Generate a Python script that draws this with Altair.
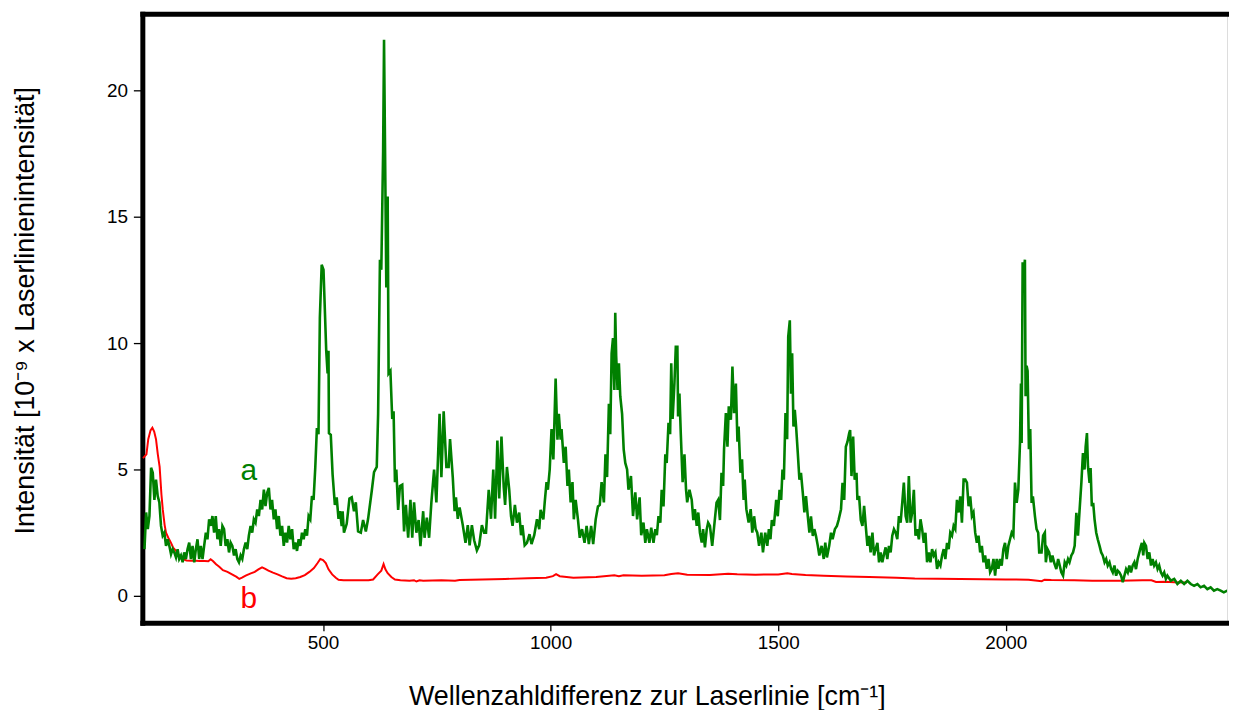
import altair as alt
import pandas as pd

# ---- spectrum a (green): (wavenumber, intensity) ----
a_low = [(107.7, 1.85), (111.3, 3.3), (115, 2.64), (118.6, 3.16), (122.2, 5.07), (125.9, 4.87), (129.5, 3.8),
         (133, 4.6), (136.8, 3.95), (140.4, 3.7), (144, 2.77), (147.7, 2.38), (151.4, 2.5), (155, 1.98),
         (158.7, 2.24), (162.3, 1.98), (166, 1.65), (169.6, 1.85), (173.2, 1.72), (176.9, 1.52), (180.5, 1.85),
         (184, 1.46), (187.8, 1.6), (191.5, 1.33), (195, 1.72), (198.7, 1.46), (202.4, 1.85), (206, 2.11),
         (209.7, 1.46), (213.3, 1.98), (217, 1.33), (220.6, 1.85), (224.2, 2.24), (227.9, 1.46), (231.5, 1.98),
         (235.2, 1.46), (238.8, 1.98), (242.5, 2.5), (246, 2.24), (249.7, 3.03), (253.4, 2.77), (257, 3.16),
         (260.7, 2.5), (264.3, 3.16), (268, 2.24), (271.6, 2.64), (275.2, 1.98), (278.9, 2.77), (282.5, 2.64),
         (286, 1.98), (289.8, 2.24), (293.4, 1.72), (297, 2.11), (300.7, 1.98), (304.4, 1.6), (308, 1.85),
         (311.7, 1.46), (315.3, 1.33), (319, 1.6), (322.6, 1.46), (326.2, 1.85), (329.9, 2.11), (333.5, 1.85),
         (337, 2.38), (340.8, 2.77), (344.4, 2.5), (348, 3.03), (351.7, 2.9), (355.4, 3.42), (359, 3.16),
         (362.7, 3.8), (366.3, 3.42), (370, 4.2), (373.6, 3.55), (377.2, 4.08), (380.9, 4.27), (384.5, 3.42),
         (388, 3.8), (391.8, 3.03), (395.4, 3.42), (399, 2.64), (402.7, 3.16), (406.4, 2.38), (410, 2.77),
         (413.7, 1.98), (417.3, 2.5), (421, 2.11), (424.6, 2.77), (428.2, 2.24), (432, 2.64), (435.5, 1.85),
         (439, 2.11), (442.8, 1.78), (446.4, 2.24), (450, 1.98), (453.7, 2.5), (457.4, 2.24), (461, 2.64),
         (464.7, 2.38), (468.3, 3.16), (472, 3.03), (475.6, 3.95), (479.2, 3.8), (482.9, 5.07), (486.5, 6.64),
         (490, 6.4), (493, 11.0), (497, 13.1)]
a_500_900 = [(501, 12.9), (507, 9.7), (510, 8.8), (512, 9.7), (513, 6.44), (517, 6.37), (521, 4.8), (526, 3.6),
             (530, 3.9), (534, 3.05), (537, 3.35), (541, 2.76), (543, 3.35), (546, 2.5), (552, 2.85), (558, 3.85),
             (563, 3.9), (568, 3.35), (572, 3.7), (577, 2.55), (583, 2.5), (588, 3.0), (594, 2.55), (599, 3.05),
             (607, 4.15), (612, 4.9), (618, 5.1), (621, 7.2), (625, 13.3), (628, 12.9), (632, 17.6), (634, 22.0),
             (636, 18.1), (639, 12.2), (642, 15.8), (644, 8.8), (648, 8.9), (652, 7.0), (655, 7.3), (658, 4.5),
             (661, 5.0), (665, 3.4), (669, 4.35), (674, 4.4), (678, 2.55), (682, 3.6), (687, 2.3), (692, 3.8),
             (696, 2.3), (700, 3.7), (705, 2.5), (710, 3.0), (714, 1.97), (720, 3.35), (723, 2.3), (728, 3.1),
             (733, 2.3), (738, 3.7), (744, 5.0), (749, 3.7), (756, 7.2), (760, 4.7), (765, 7.3), (771, 5.1),
             (776, 5.1), (779, 6.2), (785, 4.7), (789, 3.35), (792, 3.9), (796, 3.05), (800, 3.5), (807, 2.8),
             (813, 2.1), (818, 2.8), (822, 2.0), (827, 2.8), (832, 2.2), (838, 1.8), (843, 2.0), (849, 2.8),
             (854, 2.5), (858, 2.5), (864, 4.2), (869, 3.05), (874, 5.0), (878, 3.05), (883, 6.15), (887, 3.85),
             (892, 6.3), (897, 4.3), (900, 3.6), (904, 5.1)]
a_900_1310 = [(909, 4.2), (913, 3.16), (916.4, 2.77), (921.5, 3.6), (926, 2.9), (931, 3.3), (935, 2.4), (938, 2.8),
              (943, 2.0), (948, 2.1), (953.6, 2.44), (958, 2.05), (964, 2.4), (970, 3.03), (975, 2.64), (978, 3.4),
              (984, 3.03), (987, 3.7), (991, 4.5), (994, 4.2), (998, 5.0), (1002, 6.6), (1006, 5.4), (1011, 8.6),
              (1015, 6.18), (1018, 7.2), (1022, 6.18), (1024, 6.6), (1029, 5.26), (1033, 5.9), (1037, 4.35),
              (1040, 5.0), (1044, 3.7), (1048, 4.5), (1051, 3.03), (1055, 3.8), (1060, 3.03), (1064, 2.3),
              (1069, 2.64), (1074.5, 2.1), (1079, 2.77), (1084, 2.05), (1089, 2.77), (1093.5, 2.05), (1099, 3.03),
              (1104, 3.54), (1108, 3.6), (1112, 4.5), (1117, 3.7), (1120.5, 5.6), (1124, 4.7), (1128, 7.6),
              (1131, 6.4), (1134, 9.6), (1137, 10.2), (1140, 8.15), (1142, 11.2), (1144, 9.5), (1147, 8.15),
              (1150, 9.2), (1153, 7.9), (1157, 7.2), (1160.5, 5.8), (1164, 5.26), (1168, 5.0), (1171, 4.2),
              (1176.5, 4.74), (1181, 3.16), (1186, 4.1), (1190, 3.03), (1195.5, 3.9), (1199, 2.4), (1204, 2.9),
              (1208, 2.1), (1211.5, 2.64), (1217, 2.1), (1221, 2.7), (1226, 2.1), (1230, 2.64), (1233.4, 2.4),
              (1237, 3.16), (1241, 2.9), (1244, 4.2), (1248, 3.54), (1252, 5.6), (1255, 5.26), (1259, 6.85),
              (1262.5, 6.4), (1265, 9.2), (1268, 7.0), (1272, 8.4), (1275, 9.85), (1278.5, 9.85), (1280, 7.1),
              (1283, 8.0), (1286, 6.4), (1290, 4.5), (1294, 5.6), (1297.5, 4.2), (1300, 3.7), (1305, 4.2)]
a_1310_1710 = [(1310, 3.8), (1313.5, 3.0), (1317, 3.43), (1321, 2.77), (1324.4, 3.3), (1328, 2.5), (1332, 2.11),
               (1335, 2.64), (1339, 1.92), (1343, 2.64), (1346, 2.9), (1350, 2.77), (1355, 1.98), (1359.4, 2.77),
               (1364.5, 3.69), (1368, 3.8), (1372, 3.0), (1375.4, 4.87), (1379, 4.35), (1381, 5.8), (1385, 7.23),
               (1388.5, 5.9), (1391.4, 7.5), (1396, 6.97), (1399.4, 9.07), (1403, 7.23), (1407, 8.4), (1410.4, 6.1),
               (1413, 6.7), (1417, 4.87), (1420.5, 5.4), (1424, 3.8), (1426.4, 4.6), (1430, 3.43), (1435, 2.9),
               (1439.5, 3.43), (1443, 2.5), (1447, 3.15), (1450.4, 2.64), (1454, 2.5), (1458, 1.98), (1463, 2.5),
               (1466.5, 1.72), (1471.5, 2.5), (1476, 1.98), (1479.5, 2.64), (1483, 2.24), (1486, 3.0),
               (1490.5, 2.77), (1495.6, 3.8), (1499, 3.15), (1503, 4.2), (1506.5, 3.8), (1509.4, 5.0),
               (1512.4, 4.6), (1516, 7.23), (1519.6, 6.2), (1522, 10.25), (1525.5, 10.9), (1528, 8.0),
               (1530.6, 9.6), (1533.5, 6.7), (1536.4, 7.36), (1539.3, 6.7), (1543, 5.66), (1546.6, 4.6),
               (1550, 4.87), (1554, 4.08), (1557.5, 3.3), (1561, 3.95), (1565, 3.15), (1568.5, 2.5), (1572, 3.15),
               (1576, 2.37), (1579.4, 2.64), (1583, 2.37), (1587, 1.98), (1590.3, 1.6), (1595.4, 1.98),
               (1600, 1.46), (1603.4, 2.11), (1607, 1.52), (1612, 1.98), (1616, 2.5), (1619.5, 2.24),
               (1624.5, 2.64), (1629, 2.77), (1632.6, 3.0), (1638, 3.43), (1641.3, 4.47), (1645, 3.8),
               (1648.6, 5.9), (1652.2, 6.1), (1656, 6.44), (1658, 6.56), (1661, 4.74), (1664.6, 6.3), (1668, 4.6),
               (1672, 4.87), (1674, 3.8), (1677.7, 3.95), (1681.4, 3.0), (1685, 2.77), (1688.7, 3.56),
               (1692.3, 2.77), (1696, 1.98), (1699.6, 2.37), (1703, 1.72), (1707, 2.5), (1710.5, 1.6)]
a_1710_2106 = [(1714, 1.85), (1718, 2.1), (1721.5, 1.33), (1725, 1.72), (1728.8, 1.33), (1732.4, 1.65), (1736, 1.92),
               (1739.7, 1.46), (1743.3, 1.98), (1747, 1.72), (1750.6, 2.38), (1754.3, 2.64), (1758, 2.5),
               (1761.6, 2.24), (1765.2, 3.16), (1768.9, 2.9), (1772.5, 3.68), (1776, 4.48), (1780, 3.16),
               (1783.4, 2.9), (1787, 4.74), (1790.7, 2.9), (1794.3, 3.3), (1798, 4.2), (1801.6, 2.38),
               (1805.3, 2.64), (1809, 2.24), (1812.6, 3.03), (1816.2, 2.64), (1819.8, 2.1), (1823.5, 2.5),
               (1827, 1.33), (1830.8, 1.72), (1834.4, 1.33), (1838, 1.85), (1841.7, 1.6), (1845.3, 1.72),
               (1849, 1.07), (1852.6, 1.33), (1856.3, 1.2), (1860, 1.6), (1863.6, 1.85), (1867.2, 1.46),
               (1870.9, 2.1), (1874.5, 1.85), (1878, 2.5), (1881.8, 2.38), (1885.4, 2.77), (1889, 2.64),
               (1892.7, 3.8), (1896.4, 3.3), (1900, 3.94), (1903.6, 2.9), (1907.3, 4.6), (1911, 4.6),
               (1914.6, 4.48), (1918.2, 3.55), (1921.9, 3.94), (1925.5, 3.16), (1929, 3.3), (1932.8, 2.5),
               (1936.4, 2.1), (1940, 2.38), (1943.7, 1.72), (1947.4, 1.98), (1951, 1.33), (1954.6, 1.6),
               (1958.3, 1.07), (1962, 1.46), (1965.6, 0.94), (1969.2, 1.07), (1972.9, 1.46), (1976.5, 0.8),
               (1980, 1.46), (1983.8, 1.07), (1987.4, 1.46), (1991, 1.2), (1994.7, 1.85), (1998.3, 2.1),
               (2002, 1.46), (2005.6, 1.98), (2009.3, 2.24), (2012.9, 2.5), (2016.6, 2.38), (2020.2, 4.48),
               (2023.9, 3.68), (2027.5, 4.2), (2031.2, 6.05), (2033.3, 8.4), (2034.8, 6.05), (2037, 13.2),
               (2039.9, 12.9), (2042, 13.3), (2043.5, 7.9), (2045.7, 9.1), (2047.9, 8.9), (2050.8, 5.8),
               (2053.7, 6.6), (2056.7, 3.68), (2059.5, 3.94), (2064, 3.16), (2067.6, 2.64), (2071.2, 2.5),
               (2073.4, 1.72), (2078.5, 1.72), (2082, 2.38), (2085.8, 2.5), (2088, 1.33), (2091.6, 1.85),
               (2095.3, 1.72), (2098.9, 1.33), (2102.5, 1.6), (2106, 1.33)]
a_high = [(2111, 1.06), (2115, 1.46), (2118.5, 1.2), (2122, 0.93), (2125.8, 0.8), (2129.5, 1.33), (2133, 1.2),
          (2136.7, 1.46), (2140, 1.33), (2144, 1.6), (2147.7, 1.72), (2151.3, 1.98), (2155, 3.29), (2158.6, 2.38),
          (2162.2, 3.42), (2166, 4.47), (2169.5, 5.65), (2173, 5.0), (2175.4, 5.9), (2178.3, 6.44), (2180.5, 5.13),
          (2184, 4.47), (2186.3, 5.06), (2189, 3.55), (2192, 3.68), (2195, 3.03), (2198.7, 2.5), (2202, 2.24),
          (2206, 1.98), (2209.6, 1.72), (2213, 1.6), (2217, 1.33), (2220.5, 1.46), (2224, 1.2), (2227.8, 1.33),
          (2231.5, 1.06), (2235, 0.93), (2238.7, 1.2), (2242.4, 0.8), (2246, 1.0), (2249.7, 0.93), (2253.3, 0.8),
          (2257, 0.54), (2260.6, 0.8), (2264.3, 1.06), (2268, 0.93), (2271.5, 1.2), (2275, 0.93), (2278.8, 1.2),
          (2282.5, 1.33), (2286, 1.06), (2289.7, 1.46), (2293.4, 1.72), (2297, 1.98), (2299, 2.1), (2302, 1.6),
          (2304.3, 2.1), (2308, 1.98), (2311.6, 1.46), (2315.3, 1.72), (2319, 1.2), (2322.5, 1.46), (2326, 1.2),
          (2329.8, 1.33), (2333.5, 1.06), (2337, 1.2), (2340.7, 0.93), (2344.4, 0.8), (2348, 0.93), (2351.7, 0.67),
          (2355, 0.8), (2362.6, 0.6), (2370, 0.67), (2377, 0.47), (2384.5, 0.6), (2391.8, 0.47), (2399, 0.6),
          (2406.3, 0.47), (2413.6, 0.4), (2421, 0.47), (2428, 0.34), (2435.5, 0.4), (2442.8, 0.27), (2450, 0.34),
          (2457.3, 0.21), (2464.6, 0.27), (2472, 0.21), (2479, 0.14), (2486.5, 0.21), (2494, 0.14)]

# ---- spectrum b (red): (wavenumber, intensity) ----
b_low = [(104, 5.45), (107, 5.5), (112, 5.6), (116, 6.2), (121, 6.55), (125, 6.65), (129, 6.5), (133, 6.2),
         (137, 5.6), (141, 5.1), (145, 4.0), (148, 3.4), (152, 2.8), (155, 2.5), (160, 2.3), (166, 2.1), (171, 1.9),
         (177, 1.78), (184, 1.6), (191, 1.46), (200, 1.4), (210, 1.39), (220, 1.39), (230, 1.38), (240, 1.38),
         (248, 1.37), (253, 1.45), (258, 1.38), (265, 1.25), (272, 1.15), (280, 1.02), (290, 0.95), (300, 0.85),
         (310, 0.75), (316, 0.67), (322, 0.72), (330, 0.8), (340, 0.88), (350, 0.95), (358, 1.05), (366, 1.13),
         (372, 1.08), (380, 1.0), (390, 0.92), (400, 0.85), (410, 0.77), (420, 0.7), (430, 0.68), (440, 0.7),
         (450, 0.75), (460, 0.82), (470, 0.95), (480, 1.1), (488, 1.3), (494, 1.46), (500, 1.42), (506, 1.3),
         (512, 1.05), (520, 0.85), (528, 0.72), (534, 0.64), (545, 0.62), (560, 0.62), (575, 0.62), (590, 0.62),
         (600, 0.62), (610, 0.65), (620, 0.85), (628, 1.0), (633, 1.26), (637, 1.05), (642, 0.9), (650, 0.75),
         (658, 0.65)]
b_high = [(670, 0.62), (690, 0.6), (700, 0.62), (705, 0.57), (712, 0.62), (720, 0.6), (760, 0.62), (790, 0.6),
          (800, 0.63), (850, 0.65), (900, 0.67), (950, 0.7), (990, 0.72), (1005, 0.78), (1012, 0.86), (1020, 0.78),
          (1050, 0.72), (1100, 0.75), (1140, 0.82), (1150, 0.78), (1160, 0.82), (1200, 0.8), (1250, 0.82),
          (1265, 0.87), (1280, 0.9), (1300, 0.84), (1350, 0.83), (1390, 0.88), (1410, 0.86), (1450, 0.84),
          (1500, 0.85), (1520, 0.9), (1530, 0.87), (1560, 0.83), (1600, 0.8), (1650, 0.77), (1700, 0.75),
          (1760, 0.72), (1800, 0.69), (1850, 0.68), (1900, 0.67), (1950, 0.66), (2000, 0.65), (2050, 0.64),
          (2079, 0.58), (2085, 0.64), (2100, 0.63), (2150, 0.62), (2190, 0.6), (2200, 0.6), (2250, 0.6),
          (2300, 0.62), (2320, 0.62), (2330, 0.55), (2350, 0.56), (2370, 0.54), (2398, 0.53)]

# ---- curve labels ----
lab_x = [337, 337]
lab_y = [4.92, -0.12]
lab_t = ["a", "b"]
lab_c = ["#008000", "#ff0000"]

GREEN = "#008000"
RED = "#ff0000"
FONT = "Liberation Sans"

pts_a = a_low + a_500_900 + a_900_1310 + a_1310_1710 + a_1710_2106 + a_high
pts_b = b_low + b_high
df_a = pd.DataFrame(pts_a, columns=["x", "y"])
df_b = pd.DataFrame(pts_b, columns=["x", "y"])
df_l = pd.DataFrame({"x": lab_x, "y": lab_y, "t": lab_t, "c": lab_c})

xs = alt.Scale(domain=[103, 2486], nice=False, zero=False)
ys = alt.Scale(domain=[-1.06, 23.03], nice=False, zero=False)

x_axis = alt.Axis(orient="bottom", values=[500, 1000, 1500, 2000], format="d",
                  title="Wellenzahldifferenz zur Laserlinie [cm⁻¹]",
                  titleFont=FONT, titleFontSize=27, titleFontWeight="normal", titleColor="black",
                  titleX=507, titleY=74, titleAlign="center", titleBaseline="middle",
                  labelFont=FONT, labelFontSize=19, labelColor="black", labelPadding=3,
                  tickSize=8, tickWidth=1.3, tickColor="black",
                  domainWidth=5, domainColor="black", domainCap="square", grid=False)
top_axis = alt.Axis(orient="top", title=None, labels=False, ticks=False,
                    domainWidth=5, domainColor="black", domainCap="square", grid=False)
y_axis = alt.Axis(orient="left", values=[0, 5, 10, 15, 20], format="d",
                  title="Intensität [10⁻⁹ x Laserlinienintensität]",
                  titleFont=FONT, titleFontSize=27, titleFontWeight="normal", titleColor="black",
                  titleX=-117, titleY=298, titleAlign="center", titleBaseline="middle", titleAngle=270,
                  labelFont=FONT, labelFontSize=19, labelColor="black", labelPadding=6,
                  tickSize=9, tickWidth=1.3, tickColor="black",
                  domainWidth=5, domainColor="black", domainCap="square", grid=False)

line_a = alt.Chart(df_a).mark_line(color=GREEN, strokeWidth=2.6, clip=True).encode(
    x=alt.X("x:Q", scale=xs, axis=x_axis),
    y=alt.Y("y:Q", scale=ys, axis=y_axis),
)
line_b = alt.Chart(df_b).mark_line(color=RED, strokeWidth=2, clip=True).encode(
    x=alt.X("x:Q", scale=xs, axis=None),
    y=alt.Y("y:Q", scale=ys, axis=y_axis),
)
labels = alt.Chart(df_l).mark_text(font=FONT, fontSize=30, baseline="middle", align="center").encode(
    x=alt.X("x:Q", scale=xs, axis=top_axis),
    y=alt.Y("y:Q", scale=ys, axis=y_axis),
    text="t:N",
    color=alt.Color("c:N", scale=None),
)

chart = alt.layer(line_b, line_a, labels).resolve_axis(x="independent").properties(
    width=1090, height=612,
    autosize=alt.AutoSizeParams(type="none"),
    padding={"left": 135, "top": 4, "right": 2, "bottom": 86},
).configure_view(stroke=None).configure(background="white")

chart.save("out.html", embed_options={"renderer": "svg", "actions": False})
